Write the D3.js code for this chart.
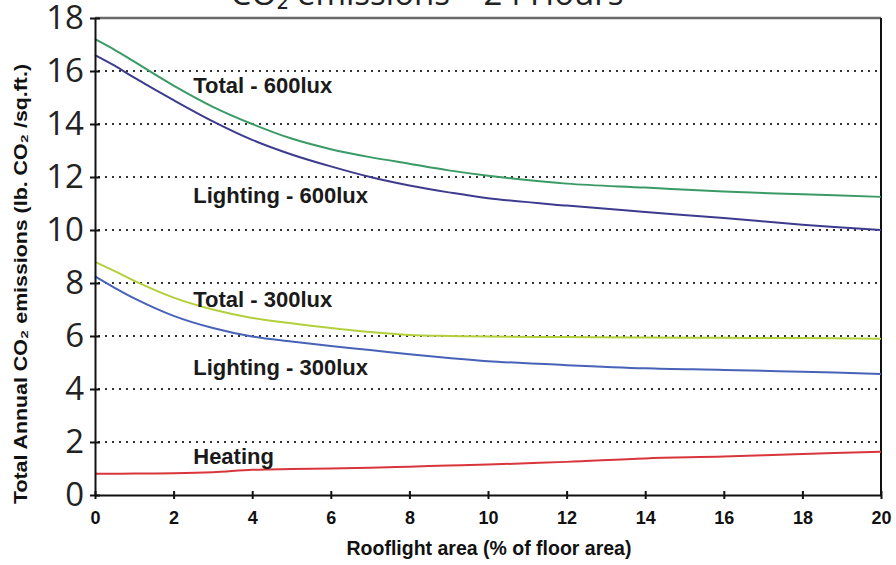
<!DOCTYPE html>
<html>
<head>
<meta charset="utf-8">
<script src="https://cdn.jsdelivr.net/npm/d3@7"></script>
<style>
  html, body { margin: 0; padding: 0; background: #fff; }
  svg { display: block; }
</style>
</head>
<body>
<svg id="chart" width="896" height="565"></svg>
<script>
// ---- data ----
const xValues = [0, 0.5, 1, 2, 3, 4, 5, 6, 7, 8, 9, 10, 12, 14, 16, 18, 20];
const total600 = [17.2, 16.8, 16.35, 15.45, 14.65, 14.0, 13.45, 13.05, 12.75, 12.5, 12.25, 12.05, 11.75, 11.6, 11.45, 11.35, 11.25];
const lighting600 = [16.6, 16.2, 15.75, 14.9, 14.1, 13.4, 12.85, 12.4, 12.0, 11.68, 11.42, 11.2, 10.92, 10.68, 10.45, 10.2, 10.0];
const total300 = [8.8, 8.45, 8.08, 7.45, 7.0, 6.68, 6.48, 6.3, 6.15, 6.04, 6.0, 5.98, 5.96, 5.94, 5.93, 5.92, 5.9];
const lighting300 = [8.25, 7.82, 7.42, 6.76, 6.3, 5.98, 5.79, 5.62, 5.47, 5.31, 5.17, 5.05, 4.9, 4.78, 4.72, 4.65, 4.57];
const heating = [0.8, 0.8, 0.81, 0.82, 0.86, 0.95, 0.98, 1.0, 1.03, 1.07, 1.11, 1.15, 1.25, 1.38, 1.45, 1.55, 1.63];
const xTicks = [0, 2, 4, 6, 8, 10, 12, 14, 16, 18, 20];
const yTicks = [0, 2, 4, 6, 8, 10, 12, 14, 16, 18];
const seriesNames = ["Total - 600lux", "Lighting - 600lux", "Total - 300lux", "Lighting - 300lux", "Heating"];
const labelX = [2.5, 2.5, 2.5, 2.5, 2.5];
const labelY = [15.17, 11.02, 7.1, 4.53, 1.17];
const titleText = "CO\u2082 emissions \u2013 24 Hours";
const xTitle = "Rooflight area (% of floor area)";
const yTitle = "Total Annual CO\u2082 emissions (lb. CO\u2082 /sq.ft.)";

const colors = ["#3a9a66", "#3d3b8e", "#b3cf3c", "#4862b8", "#d8363c"];
const seriesValues = [total600, lighting600, total300, lighting300, heating];

// ---- layout ----
const svg = d3.select("#chart");
const mLeft = 95, mRight = 881, mTop = 18, mBottom = 495;
const x = d3.scaleLinear().domain([0, 20]).range([mLeft, mRight]);
const y = d3.scaleLinear().domain([0, 18]).range([mBottom, mTop]);

// title (cut off at top, as in the source image)
svg.append("text")
  .attr("x", 427).attr("y", 5)
  .attr("text-anchor", "middle")
  .attr("font-family", "'Open Sans', sans-serif")
  .attr("font-size", 33)
  .attr("fill", "#222")
  .text(titleText);

// gridlines (dotted)
svg.append("g").selectAll("line")
  .data(yTicks.filter(d => d > 0 && d < 18))
  .join("line")
  .attr("x1", x(0) + 3).attr("x2", x(20) - 2)
  .attr("y1", d => y(d)).attr("y2", d => y(d))
  .attr("stroke", "#333")
  .attr("stroke-width", 2)
  .attr("stroke-dasharray", "2,5");

// frame: top (gray) and right
svg.append("line")
  .attr("x1", x(0)).attr("x2", x(20))
  .attr("y1", y(18)).attr("y2", y(18))
  .attr("stroke", "#6a6a6a").attr("stroke-width", 2.5);
svg.append("line")
  .attr("x1", x(20)).attr("x2", x(20))
  .attr("y1", y(18)).attr("y2", y(0))
  .attr("stroke", "#111").attr("stroke-width", 2);

// lines
const line = d3.line().x((d, i) => x(xValues[i])).y(d => y(d)).curve(d3.curveCatmullRom.alpha(0.5));
svg.append("g").selectAll("path")
  .data(seriesValues)
  .join("path")
  .attr("d", d => line(d))
  .attr("fill", "none")
  .attr("stroke", (d, i) => colors[i])
  .attr("stroke-width", 2);

// y axis
const yAxis = d3.axisLeft(y).tickValues(yTicks).tickSize(0).tickFormat(d3.format("d"));
const gy = svg.append("g").attr("transform", `translate(${mLeft},0)`).call(yAxis);
gy.select(".domain").attr("stroke", "#111").attr("stroke-width", 2);
gy.selectAll(".tick text")
  .attr("x", -11)
  .attr("font-family", "'Open Sans', sans-serif")
  .attr("font-size", 33)
  .attr("fill", "#222");
gy.selectAll(".tick").append("line")
  .attr("x1", -5).attr("x2", 5)
  .attr("stroke", "#111").attr("stroke-width", 2);

// x axis
const xAxis = d3.axisBottom(x).tickValues(xTicks).tickSize(0).tickFormat(d3.format("d"));
const gx = svg.append("g").attr("transform", `translate(0,${mBottom})`).call(xAxis);
gx.select(".domain").attr("stroke", "#111").attr("stroke-width", 2);
gx.selectAll(".tick text")
  .attr("y", 16)
  .attr("dy", "0.71em")
  .attr("font-family", "'Liberation Sans', Arial, sans-serif")
  .attr("font-weight", "bold")
  .attr("font-size", 18)
  .attr("fill", "#111");
gx.selectAll(".tick").append("line")
  .attr("y1", -4).attr("y2", 4)
  .attr("stroke", "#111").attr("stroke-width", 2);

// axis titles
svg.append("text")
  .attr("x", 489).attr("y", 555)
  .attr("text-anchor", "middle")
  .attr("font-family", "'Liberation Sans', Arial, sans-serif")
  .attr("font-weight", "bold")
  .attr("font-size", 19.5)
  .attr("fill", "#111")
  .text(xTitle);

svg.append("text")
  .attr("transform", "translate(27,284) rotate(-90)")
  .attr("text-anchor", "middle")
  .attr("font-family", "'Liberation Sans', Arial, sans-serif")
  .attr("font-weight", "bold")
  .attr("font-size", 18)
  .attr("textLength", 440)
  .attr("lengthAdjust", "spacingAndGlyphs")
  .attr("fill", "#111")
  .text(yTitle);

// series labels
svg.append("g").selectAll("text")
  .data(seriesNames)
  .join("text")
  .attr("x", (d, i) => x(labelX[i]))
  .attr("y", (d, i) => y(labelY[i]))
  .attr("font-family", "'Liberation Sans', Arial, sans-serif")
  .attr("font-weight", "bold")
  .attr("font-size", 22)
  .attr("fill", "#1a1a1a")
  .text(d => d);
</script>
</body>
</html>
